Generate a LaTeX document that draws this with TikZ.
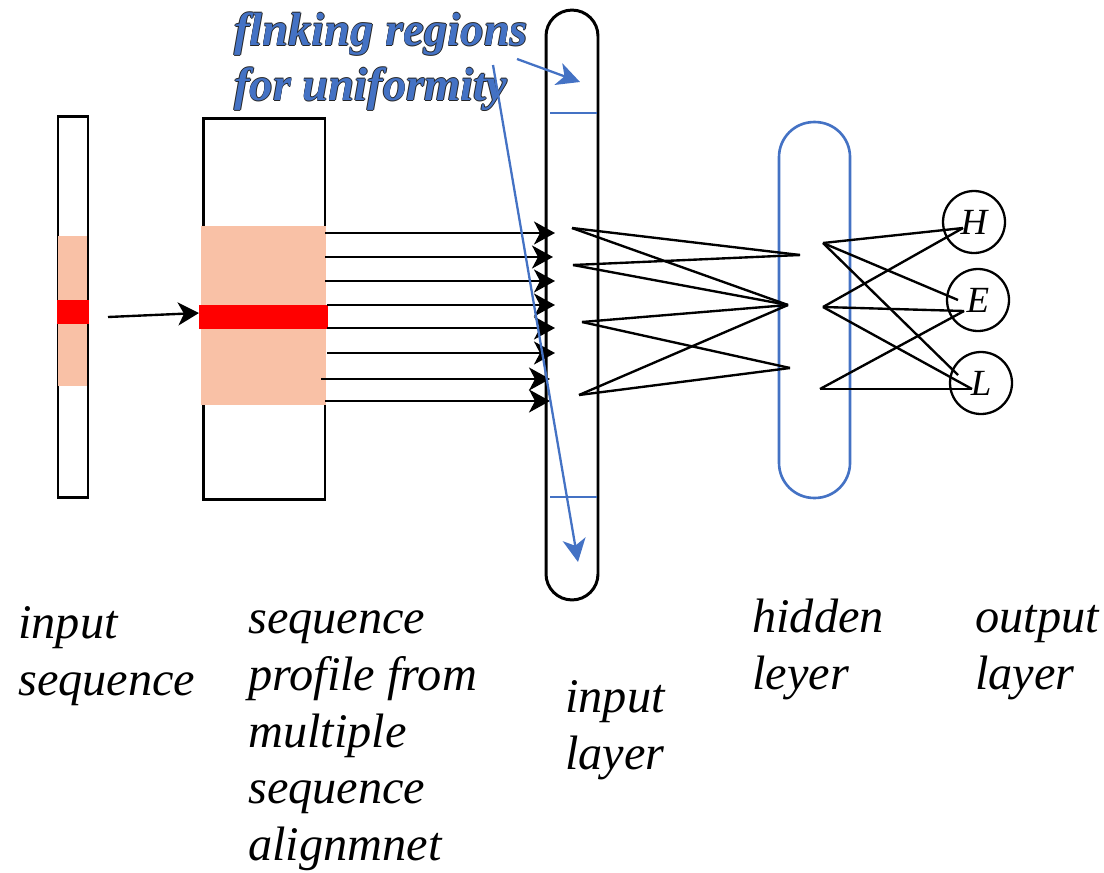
\documentclass[tikz,border=0pt]{standalone}
\usepackage{fontspec}
\setmainfont{Liberation Serif}
\usepackage{xcolor}
\usetikzlibrary{arrows.meta, calc, positioning}

\definecolor{salmon}{RGB}{249,193,166}
\definecolor{offblue}{RGB}{68,114,196}
\newcommand{\lblfont}{\fontsize{27.5}{32.4}\selectfont\itshape}
\newcommand{\notefont}{\fontsize{26.5}{31.3}\selectfont\bfseries\itshape}

\tikzset{
  box/.style={draw, line width=1.7pt, inner sep=0pt},
  feed/.style={line width=1.35pt,
    -{Stealth[length=0.42cm, width=0.46cm, inset=0.12cm]}},
  note/.style={draw=offblue, line width=1.3pt,
    -{Stealth[length=0.46cm, width=0.46cm, inset=0.13cm]}},
  net/.style={line width=1.35pt},
  outnode/.style={circle, draw, line width=1.3pt, inner sep=0pt,
    minimum size=1.24cm, font=\fontsize{21}{25}\selectfont\itshape},
  lbl/.style={anchor=north west, inner sep=0pt, align=left, font=\lblfont}
}

\begin{document}
\begin{tikzpicture}[x=0.02cm, y=-0.02cm]
  \useasboundingbox (0,0) rectangle (1104,872);

  % sequence and its profile
  \node[box, minimum width=0.6cm, minimum height=7.64cm] (inseq) at (73,307) {};
  \node[box, minimum width=2.44cm, minimum height=7.64cm] (prof) at (264,309) {};
  \fill[salmon] (58,236) rectangle (87,386);
  \fill[red] (57,300) rectangle (89,324);
  \fill[salmon] (201,226) rectangle (326,405);
  \fill[red] (199,305) rectangle (328,329);

  % layers
  \node[box, rounded corners=0.52cm, minimum width=1.04cm,
    minimum height=11.8cm] (inlayer) at (572,305) {};
  \draw[offblue, line width=1.3pt] (550,113) -- (597,113);
  \draw[offblue, line width=1.3pt] (550,497) -- (597,497);
  \node[box, draw=offblue, line width=1.5pt, rounded corners=0.7cm,
    minimum width=1.42cm, minimum height=7.52cm] (hidlayer) at (814.5,310) {};

  \node[outnode] (H) at (974,222) {H};
  \node[outnode] (E) at (978,300) {E};
  \node[outnode] (L) at (981,383) {L};

  % window -> profile -> input units
  \coordinate (win) at (108,317);
  \coordinate (profin) at (199,313);
  \draw[feed] (win) -- (profin);
  \foreach \i/\sx/\y/\tx in {1/325/233/555, 2/325/257/553, 3/325/281/555,
      4/327/305/555, 5/327/328/555, 6/327/353/555, 7/321/379/550, 8/325/401/550}{
    \coordinate (s\i) at (\sx,\y);
    \coordinate (t\i) at (\tx,\y);
    \draw[feed] (s\i) -- (t\i);
  }

  % input -> hidden
  \coordinate (i1) at (572,228);
  \coordinate (i2) at (573,265);
  \coordinate (i3) at (582,322);
  \coordinate (i4) at (579,395);
  \coordinate (ha) at (800,255);
  \coordinate (hb) at (788,305);
  \coordinate (hc) at (790,368);
  \path[net]
    (i1) edge (ha) (i1) edge (hb)
    (i2) edge (ha) (i2) edge (hb)
    (i3) edge (hb) (i3) edge (hc)
    (i4) edge (hb) (i4) edge (hc);

  % hidden -> output
  \coordinate (r1) at (823,243);
  \coordinate (r2) at (823,307);
  \coordinate (r3) at (820,389);
  \coordinate (toH) at (963,228);
  \coordinate (toE1) at (958,300);
  \coordinate (toE2) at (964,311);
  \coordinate (toL1) at (958,375);
  \coordinate (toL2) at (972,389);
  \path[net]
    (r1) edge (toH) (r1) edge (toE1) (r1) edge (toL1)
    (r2) edge (toH) (r2) edge (toE2) (r2) edge (toL2)
    (r3) edge (toE2) (r3) edge (toL2);

  % flanking note
  \foreach \dx/\dy in {-0.7/0, 0.7/0, 0/-0.7, 0/0.7}
    \node[lbl, font=\notefont, text=black!85] at (234+\dx,6.5+\dy)
      {\strut flnking regions\\for uniformity};
  \node[lbl, font=\notefont, text=offblue] (flank) at (234,6.5)
    {\strut flnking regions\\for uniformity};
  \coordinate (n1) at (517,59);
  \coordinate (n1e) at (580,82);
  \coordinate (n2) at (493,65);
  \coordinate (n2e) at (578,562);
  \draw[note] (n1) -- (n1e);
  \draw[note] (n2) -- (n2e);

  % captions
  \node[lbl] (inseqlbl) at (18,598) {\strut input\\sequence};
  \node[lbl] (proflbl) at (248,593)
    {\strut sequence\\profile from\\multiple\\sequence\\alignmnet};
  \node[lbl] (inlayerlbl) at (565,672) {\strut input\\layer};
  \node[lbl] (hidlbl) at (752,592) {\strut hidden\\leyer};
  \node[lbl] (outlbl) at (975,592) {\strut output\\layer};
\end{tikzpicture}
\end{document}
